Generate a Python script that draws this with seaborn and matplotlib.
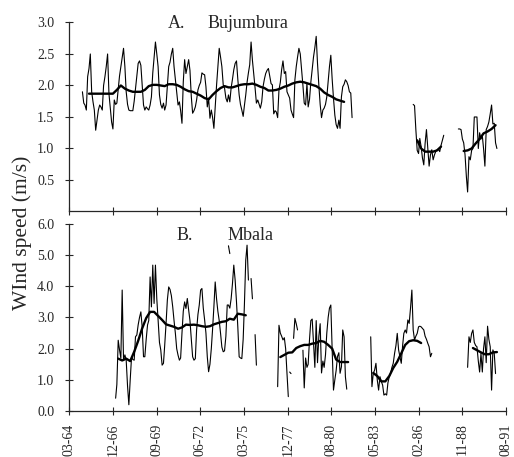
import pandas as pd
import matplotlib
matplotlib.use("Agg")
import matplotlib.pyplot as plt
import matplotlib.dates as mdates
import seaborn as sns

# Monthly mean wind speed (m/s)
# Bujumbura, Jan 1965 - Dec 1981
buj_1965 = [
    1.90, 1.72, 1.69, 1.61, 2.14, 2.27, 2.50, 1.90, 1.74, 1.61, 1.29, 1.45,
    1.61, 1.69, 1.66, 1.61, 2.00, 2.14, 2.30, 2.50, 1.87, 1.64, 1.42, 1.31,
    1.77, 1.70, 1.72, 1.93, 2.15, 2.30, 2.45, 2.59, 2.30, 1.90, 1.70, 1.61,
    1.60, 1.60, 1.60, 1.75, 1.95, 2.14, 2.35, 2.39, 2.32, 2.00, 1.69, 1.61,
    1.66, 1.63, 1.61, 1.69, 1.82, 2.20, 2.45, 2.69, 2.50, 2.30, 1.85, 1.70,
    1.64, 1.72, 1.61, 1.69, 1.98, 2.30, 2.37, 2.50, 2.59, 2.30, 2.10, 1.90,
    1.69, 1.74, 1.60, 1.40, 2.06, 2.41, 2.19, 2.30, 2.41, 2.24, 1.82, 1.56,
    1.60, 1.66, 1.77, 1.93, 2.00, 2.05, 2.20, 2.18, 2.17, 1.98, 1.66, 1.80,
    1.48, 1.61, 1.50, 1.32, 1.66, 2.00, 2.30, 2.59, 2.45, 2.30, 2.01, 1.96,
    1.80, 1.74, 1.85, 1.74, 1.96, 2.10, 2.25, 2.35, 2.39, 2.10, 1.85, 1.70,
    1.61, 1.51, 1.68, 1.85, 2.05, 2.20, 2.33, 2.69, 2.40, 2.19, 1.96, 1.72,
    1.77, 1.70, 1.64, 1.74, 1.98, 2.10, 2.19, 2.24, 2.27, 2.15, 2.03, 2.01,
    1.55, 1.60, 1.58, 1.49, 1.93, 2.05, 2.25, 2.39, 2.19, 2.22, 1.90, 1.85,
    1.80, 1.61, 1.55, 1.49, 2.09, 2.30, 2.45, 2.59, 2.50, 2.25, 2.00, 1.72,
    1.69, 2.03, 1.66, 1.78, 2.05, 2.25, 2.45, 2.60, 2.78, 2.35, 2.00, 1.70,
    1.49, 1.61, 1.64, 1.70, 1.82, 2.06, 2.30, 2.48, 2.10, 1.80, 1.53, 1.38,
    1.32, 1.45, 1.32, 1.82, 1.98, 2.02, 2.09, 2.06, 2.00, 1.90, 1.88, 1.49,
]
# Bujumbura, from Oct 1985
buj_1985 = [1.70, 1.68, 1.30, 0.97, 0.92, 1.16, 1.03, 0.85, 0.74, 1.08, 1.30, 1.00,
            0.72, 0.90, 0.98, 0.82, 0.90, 0.95, 0.98, 0.99, 0.95, 1.05, 1.13, 1.21]
# Bujumbura, from Aug 1988
buj_1988 = [1.31, 1.31, 1.30, 1.15, 1.09, 0.90, 0.55, 0.31, 0.87, 0.82, 0.97, 1.00,
            1.50, 1.50, 1.50, 1.00, 1.25, 1.15, 1.20, 1.00, 0.72, 1.30, 1.35, 1.42,
            1.55, 1.69, 1.39, 1.40, 1.09, 1.00]

# Mbala, from Feb 1967
mbala_1967 = [
    0.41, 0.85, 2.27, 1.96, 1.69, 3.88, 1.63, 1.80, 1.63, 0.80, 0.20, 1.00,
    1.74, 1.65, 1.63, 2.38, 2.44, 2.76, 3.00, 3.18, 2.70, 1.74, 1.74, 2.30,
    2.76, 2.90, 4.30, 3.34, 4.68, 3.45, 4.68, 3.60, 2.92, 2.20, 1.96, 1.47,
    1.53, 2.10, 2.80, 3.56, 3.98, 3.90, 3.70, 3.34, 2.90, 2.49, 2.00, 1.79,
    1.63, 1.70, 2.50, 3.20, 3.50, 3.29, 3.61, 3.24, 2.90, 2.30, 1.74, 1.63,
    1.68, 2.60, 3.10, 3.40, 3.88, 3.93, 3.30, 2.92, 2.50, 1.74, 1.26, 1.50,
    2.00, 2.60, 3.34, 4.14, 3.60, 3.20, 2.90, 2.49, 2.05, 1.90, 1.93, 2.40,
    3.40, 3.40, 3.30, 3.60, 4.09, 4.68, 4.20, 3.50, 2.70, 1.74, 1.70, 1.68,
    2.30, 3.40, 4.84, 5.32, 4.20,
]
mbala_1974 = [5.30, 5.05]
mbala_1975a = [4.25, 3.60]
mbala_1975b = [2.45, 1.47]
mbala_1977 = [0.78, 2.75, 2.50, 2.40, 2.28, 2.35, 2.00, 1.20, 0.46]
mbala_1978a = [1.25, 1.20]
mbala_1978b = [2.33, 2.97, 2.80, 2.60]
mbala_1978c = [1.95, 0.74, 1.70, 1.40, 1.50, 2.30, 2.90, 2.95, 2.20, 1.40, 2.90, 1.55,
               2.40, 2.80, 1.22, 1.60, 1.40, 1.80, 2.50, 3.00, 3.30, 3.40, 1.96, 0.67,
               1.00, 1.30, 1.75, 1.87, 1.21, 1.42, 2.60, 2.38, 1.10, 0.70]
mbala_1983 = [2.38, 0.78, 1.21, 1.31, 1.53, 1.00, 0.67, 1.10, 0.95, 0.83, 0.51, 0.55,
              0.51, 0.90, 1.10, 1.21, 1.40, 1.53, 1.85, 2.10, 2.49, 1.96, 1.74, 1.53,
              2.10, 2.49, 2.60, 2.50, 2.92, 2.81, 3.30, 3.88, 2.60, 2.28, 2.40, 2.49,
              2.70, 2.72, 2.70, 2.65, 2.60, 2.40, 2.30, 2.17, 2.06, 1.74, 1.85]
mbala_1989 = [1.40, 2.38, 2.20, 2.49, 2.60, 2.20, 2.10, 2.06, 1.60, 1.25, 1.85, 1.25,
              2.00, 2.38, 1.55, 2.72, 2.30, 2.06, 0.67, 1.96, 1.85, 1.20]

# 12-month running means, read every 3 months
buj_ma_1965 = [1.87, 1.87, 1.87, 1.87, 1.87, 1.87, 1.87, 1.93, 2.00, 1.95,
               1.92, 1.90, 1.90, 1.90, 1.93, 1.99, 2.01, 2.01, 2.00, 1.99,
               2.02, 2.02, 2.01, 1.98, 1.94, 1.91, 1.90, 1.87, 1.84, 1.80,
               1.78, 1.85, 1.91, 1.96, 1.99, 1.97, 1.97, 1.99, 2.01, 2.02,
               2.02, 2.03, 2.01, 1.98, 1.96, 1.92, 1.92, 1.93, 1.95, 1.98,
               2.00, 2.03, 2.05, 2.06, 2.05, 2.03, 2.01, 1.99, 1.95, 1.89,
               1.85, 1.82, 1.78, 1.76, 1.74]
buj_ma_1986 = [1.13, 1.00, 0.95, 0.95, 0.95, 0.97, 1.03]
buj_ma_1988 = [0.96, 0.97, 1.00, 1.08, 1.15, 1.24, 1.27, 1.31, 1.37]
mbala_ma_1967 = [1.68, 1.62, 1.68, 1.60, 1.90, 2.25, 2.65, 2.98, 3.18, 3.18, 3.05,
                 2.92, 2.78, 2.74, 2.70, 2.64, 2.68, 2.77, 2.76, 2.77, 2.75, 2.72,
                 2.70, 2.72, 2.78, 2.82, 2.86, 2.88, 2.96, 2.93, 3.12, 3.10, 3.07]
mbala_ma_1977 = [1.73, 1.80, 1.87, 1.88, 2.02, 2.08, 2.12, 2.12, 2.16, 2.18, 2.25,
                 2.22, 2.12, 2.00, 1.65, 1.57, 1.57, 1.57]
mbala_ma_1983 = [1.22, 1.12, 0.95, 0.95, 1.12, 1.38, 1.58, 1.85, 2.12, 2.24, 2.27,
                 2.25, 2.18]
mbala_ma_1989 = [2.02, 1.95, 1.88, 1.82, 1.82, 1.88, 1.89]

x_tick_labels = ["03-64", "12-66", "09-69", "06-72", "03-75", "12-77",
                 "08-80", "05-83", "02-86", "11-88", "08-91"]

pieces = [
    ("Bujumbura", "monthly", "1965-01", buj_1965, "MS"),
    ("Bujumbura", "monthly", "1985-10", buj_1985, "MS"),
    ("Bujumbura", "monthly", "1988-08", buj_1988, "MS"),
    ("Bujumbura", "mean", "1965-06", buj_ma_1965, "3MS"),
    ("Bujumbura", "mean", "1986-01", buj_ma_1986, "3MS"),
    ("Bujumbura", "mean", "1988-12", buj_ma_1988, "3MS"),
    ("Mbala", "monthly", "1967-02", mbala_1967, "MS"),
    ("Mbala", "monthly", "1974-03", mbala_1974, "MS"),
    ("Mbala", "monthly", "1975-08", mbala_1975a, "MS"),
    ("Mbala", "monthly", "1975-11", mbala_1975b, "MS"),
    ("Mbala", "monthly", "1977-04", mbala_1977, "MS"),
    ("Mbala", "monthly", "1978-01", mbala_1978a, "MS"),
    ("Mbala", "monthly", "1978-04", mbala_1978b, "MS"),
    ("Mbala", "monthly", "1978-11", mbala_1978c, "MS"),
    ("Mbala", "monthly", "1983-02", mbala_1983, "MS"),
    ("Mbala", "monthly", "1989-03", mbala_1989, "MS"),
    ("Mbala", "mean", "1967-04", mbala_ma_1967, "3MS"),
    ("Mbala", "mean", "1977-06", mbala_ma_1977, "3MS"),
    ("Mbala", "mean", "1983-04", mbala_ma_1983, "3MS"),
    ("Mbala", "mean", "1989-07", mbala_ma_1989, "3MS"),
]

frames = []
for station, kind, start, vals, step in pieces:
    dates = pd.date_range(start, periods=len(vals), freq=step) + pd.Timedelta(days=14)
    frames.append(pd.DataFrame({"date": dates, "speed": vals, "station": station,
                                "kind": kind, "piece": f"{station}-{kind}-{start}"}))
df = pd.concat(frames, ignore_index=True)

# axis ticks every 1000 days, like the original spreadsheet axis
tick_dates = pd.date_range("1964-03-25", periods=len(x_tick_labels), freq="1000D")

sns.set_style("ticks")
plt.rcParams["font.family"] = ["Liberation Serif", "DejaVu Serif"]

fig = plt.figure(figsize=(5.14, 4.57), dpi=100)
ax_a = fig.add_axes([0.1352, 0.5372, 0.8492, 0.4136])
ax_b = fig.add_axes([0.1352, 0.1007, 0.8492, 0.4092])

panels = [(ax_a, "Bujumbura", "A.", 3.0, [0.5, 1.0, 1.5, 2.0, 2.5, 3.0], (0.226, 0.317), 0.971),
          (ax_b, "Mbala", "B.", 6.0, [0, 1, 2, 3, 4, 5, 6], (0.246, 0.363), 0.914)]

for ax, station, letter, ymax, yticks, text_x, text_y in panels:
    d = df[df["station"] == station]
    sns.lineplot(data=d[d["kind"] == "monthly"], x="date", y="speed", units="piece",
                 estimator=None, color="black", linewidth=0.8, ax=ax)
    sns.lineplot(data=d[d["kind"] == "mean"], x="date", y="speed", units="piece",
                 estimator=None, color="black", linewidth=1.7, ax=ax)
    sns.despine(ax=ax)
    ax.set_xlim(tick_dates[0], tick_dates[-1])
    ax.set_ylim(0, ymax)
    ax.set_yticks(yticks)
    ax.set_yticklabels([f"{t:.1f}" for t in yticks])
    ax.set_xticks(mdates.date2num(tick_dates))
    ax.set_xticklabels(x_tick_labels, rotation=90)
    ax.set_xlabel("")
    ax.set_ylabel("")
    ax.tick_params(direction="inout", length=6, width=0.8, labelsize=10)
    ax.tick_params(axis="y", pad=8)
    ax.tick_params(axis="x", pad=6)
    for s in ["left", "bottom"]:
        ax.spines[s].set_linewidth(0.9)
    ax.text(text_x[0], text_y, letter, transform=ax.transAxes, fontsize=13, va="baseline")
    ax.text(text_x[1], text_y, station, transform=ax.transAxes, fontsize=13, va="baseline")

ax_a.tick_params(axis="x", labelbottom=False)

fig.text(0.043, 0.49, "WInd speed (m/s)", rotation=90, ha="center", va="center", fontsize=15.5)

fig.savefig("out.png", dpi=100)
